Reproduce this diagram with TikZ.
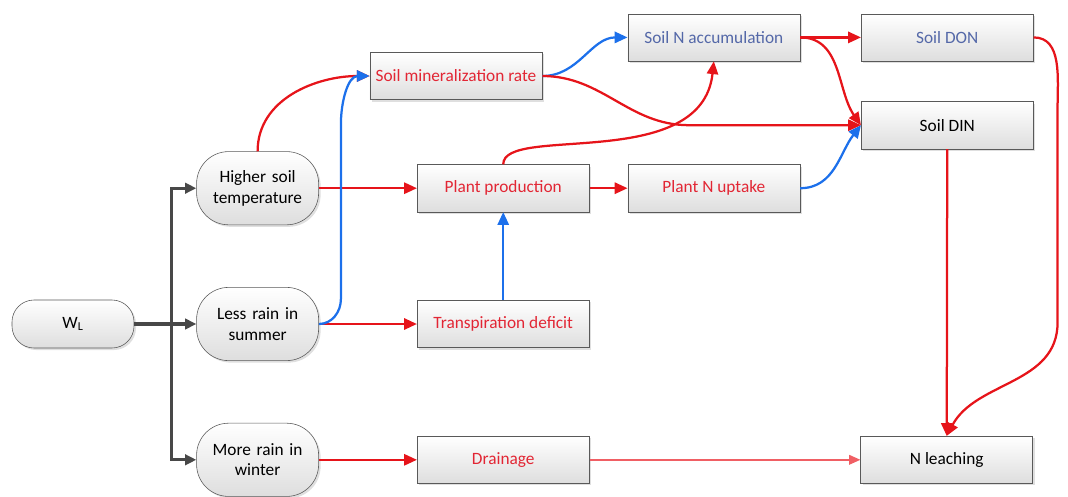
\documentclass[tikz,border=0pt]{standalone}
\usepackage{fontspec}
\setmainfont{Carlito}
\usetikzlibrary{arrows.meta,positioning,shadows}

\definecolor{lnred}{RGB}{230,20,26}
\definecolor{lnpink}{RGB}{240,95,100}
\definecolor{lnblue}{RGB}{28,112,235}
\definecolor{lngrey}{RGB}{72,72,72}
\definecolor{txtred}{RGB}{226,38,52}
\definecolor{txtblue}{RGB}{84,104,168}

\begin{document}
\begin{tikzpicture}[x=0.025cm, y=-0.025cm, font=\fontsize{12.3}{14.5}\selectfont, node distance=1.55cm,
  box/.style={draw=black!65, rectangle, minimum width=4.3cm, minimum height=1.18cm, inner sep=2pt, top color=white, bottom color=black!13, drop shadow={opacity=0.25, shadow xshift=0.5mm, shadow yshift=-0.5mm}},
  pill/.style={box, minimum width=3.05cm, minimum height=1.83cm, rounded corners=0.8cm, text width=2.7cm, align=center},
  rdline/.style={draw=lnred, line width=1.6pt, -{Triangle[length=3.2mm,width=2.8mm]}},
  pkline/.style={draw=lnpink, line width=1pt, -{Triangle[length=2.8mm,width=2.4mm]}},
  bline/.style={draw=lnblue, line width=1.6pt, -{Triangle[length=3.2mm,width=2.8mm]}},
  gline/.style={draw=lngrey, line width=2pt, -{Triangle[length=2.8mm,width=2.6mm]}}]
\useasboundingbox (0,0) rectangle (1068,496);
% drivers
\node[pill, minimum height=1.2cm, rounded corners=0.55cm] (wl) at (73,324) {W\textsubscript{L}};
\node[pill, right=of wl] (lrs) {Less rain in\\summer};
\node[pill, above=of lrs] (hst) {Higher soil\\temperature};
\node[pill, below=of lrs] (mrw) {More rain in\\winter};
\coordinate[left=0.625cm of lrs.west] (jn);
% processes
\node[box, right=2.45cm of hst, text=txtred] (pp) {Plant production};
\node[box, right=2.45cm of lrs, text=txtred] (td) {Transpiration deficit};
\node[box, right=2.45cm of mrw, text=txtred] (dr) {Drainage};
\node[box, right=0.95cm of pp, text=txtred] (pnu) {Plant N uptake};
\node[box, above=2.575cm of pnu, text=txtblue] (sna) {Soil N accumulation};
\node[box, text=txtred] (smr) at (456,76) {Soil mineralization rate};
\node[box, right=1.52cm of sna, text=txtblue] (sdon) {Soil DON};
\node[box, below=1cm of sdon] (sdin) {Soil DIN};
\node[box, right=6.77cm of dr] (nl) {N leaching};
% connectors
\draw[gline, line width=2.6pt] (wl) -- (lrs);
\draw[gline] (jn) |- (hst.west);
\draw[gline] (jn) |- (mrw.west);
\draw[rdline] (hst) -- (pp);
\draw[rdline] (lrs) -- (td);
\draw[rdline] (mrw) -- (dr);
\draw[bline] (td) -- (pp);
\draw[rdline] (pp) -- (pnu);
\draw[rdline] (hst.north) to[out=90,in=180] (smr.west);
\draw[bline] (lrs.east) to[out=0,in=-90] ++(22,-25) -- ++(0,-175) to[out=90,in=180] (smr.west);
\draw[bline] (smr.east) to[out=0,in=180] (sna.west);
\draw[rdline] (smr.east) to[out=0,in=180] ([xshift=-4.3cm]sdin.west) -- (sdin.west);
\draw[rdline] (pp.north) .. controls +(0,-40) and +(-12,112) .. (sna.south);
\draw[rdline] (sna) -- (sdon);
\draw[rdline] (sna.east) to[out=0,in=125] (sdin.west);
\draw[bline] (pnu.east) to[out=0,in=232] (sdin.west);
\draw[rdline] (sdin) -- (nl);
\draw[rdline] (sdon.east) to[out=0,in=90] ++(24,70) -- ++(0,215) to[out=-90,in=62] (nl.north);
\draw[pkline] (dr) -- (nl);
\end{tikzpicture}
\end{document}
